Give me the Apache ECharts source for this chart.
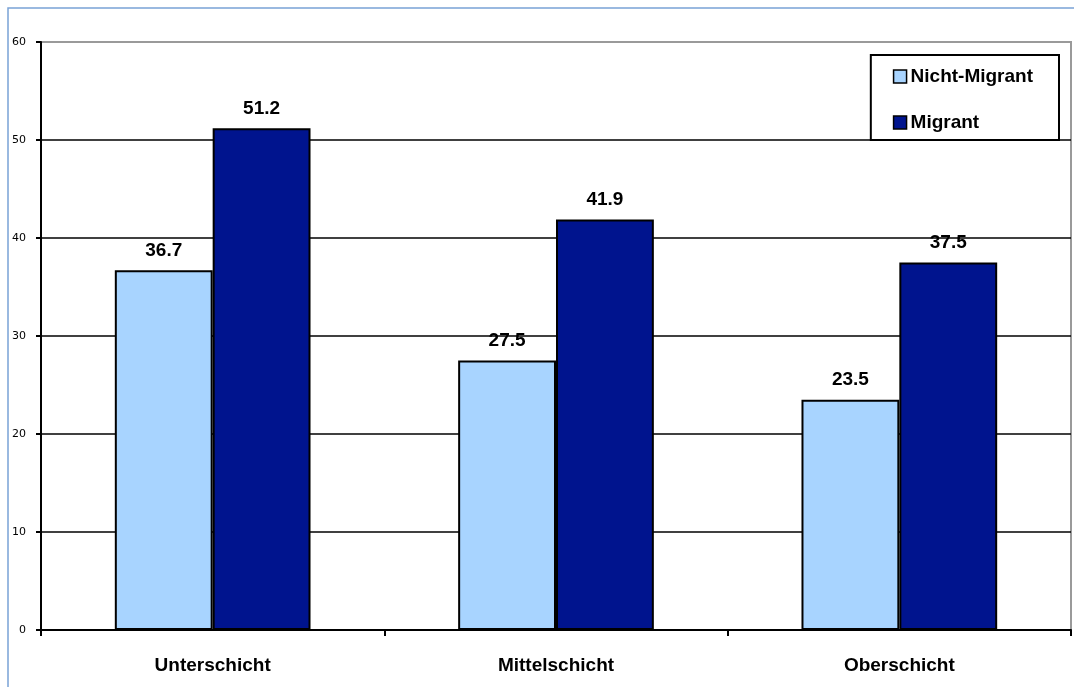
<!DOCTYPE html>
<html>
<head>
<meta charset="utf-8">
<script src="https://cdn.jsdelivr.net/npm/echarts@6/dist/echarts.min.js"></script>
<style>
  html, body { margin: 0; padding: 0; background: #ffffff; }
  #chart { width: 1074px; height: 687px; }
</style>
</head>
<body>
<div id="chart"></div>
<script>
// Schichtzugehörigkeit: Anteile Nicht-Migranten vs. Migranten
const categories = ['Unterschicht', 'Mittelschicht', 'Oberschicht'];
const nichtMigrant = [36.7, 27.5, 23.5];
const migrant = [51.2, 41.9, 37.5];
const yTicks = [0, 10, 20, 30, 40, 50, 60];

const chart = echarts.init(document.getElementById('chart'));

const labelStyle = {
  show: true,
  position: 'top',
  distance: 10,
  color: '#000',
  fontFamily: 'Liberation Sans, Arial, sans-serif',
  fontWeight: 'bold',
  fontSize: 19,
  formatter: p => p.value.toFixed(1)
};

chart.setOption({
  animation: false,
  backgroundColor: '#ffffff',
  graphic: [
    {
      type: 'rect',
      shape: { x: 8, y: 8, width: 1100, height: 720 },
      style: { fill: 'none', stroke: '#7aa3d6', lineWidth: 1.5 },
      silent: true,
      z: 0
    }
  ],
  grid: {
    left: 41, right: 3, top: 42, bottom: 57,
    show: true,
    borderColor: '#9a9a9a',
    borderWidth: 2,
    backgroundColor: 'transparent'
  },
  legend: {
    right: 15,
    top: 55,
    orient: 'vertical',
    padding: [12, 26, 8, 22],
    itemGap: 27,
    itemWidth: 13,
    itemHeight: 13,
    borderColor: '#000',
    borderWidth: 2,
    backgroundColor: '#fff',
    icon: 'rect',
    itemStyle: { borderColor: '#000', borderWidth: 1.5 },
    textStyle: {
      color: '#000',
      fontFamily: 'Liberation Sans, Arial, sans-serif',
      fontWeight: 'bold',
      fontSize: 19,
      padding: [5, 0, 0, -1]
    },
    data: ['Nicht-Migrant', 'Migrant']
  },
  xAxis: {
    type: 'category',
    data: categories,
    axisLine: { lineStyle: { color: '#000', width: 2 } },
    axisTick: { show: true, length: 6, lineStyle: { color: '#000', width: 2 } },
    axisLabel: {
      color: '#000',
      fontFamily: 'Liberation Sans, Arial, sans-serif',
      fontWeight: 'bold',
      fontSize: 19,
      margin: 26
    }
  },
  yAxis: {
    type: 'value',
    min: yTicks[0],
    max: yTicks[yTicks.length - 1],
    interval: 10,
    axisLine: { show: true, lineStyle: { color: '#000', width: 2 } },
    axisTick: { show: true, length: 5, lineStyle: { color: '#000', width: 2 } },
    axisLabel: {
      color: '#000',
      fontFamily: 'DejaVu Sans, sans-serif',
      fontSize: 11,
      margin: 15
    },
    splitLine: {
      show: true,
      lineStyle: {
        color: ['#000', '#000', '#000', '#000', '#000', '#000', '#9a9a9a'],
        width: 1.5
      }
    }
  },
  series: [
    {
      name: 'Nicht-Migrant',
      type: 'bar',
      data: nichtMigrant,
      barGap: '0%',
      barCategoryGap: '43%',
      itemStyle: { color: '#a8d4ff', borderColor: '#000', borderWidth: 2 },
      label: labelStyle,
      z: 3
    },
    {
      name: 'Migrant',
      type: 'bar',
      data: migrant,
      barGap: '0%',
      barCategoryGap: '43%',
      itemStyle: { color: '#00148e', borderColor: '#000', borderWidth: 2 },
      label: labelStyle,
      z: 3
    }
  ]
});
</script>
</body>
</html>
